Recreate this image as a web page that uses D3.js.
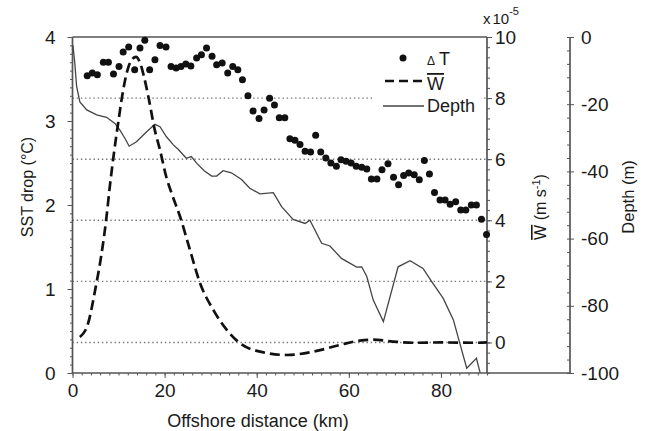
<!DOCTYPE html>
<html><head><meta charset="utf-8">
<script src="https://cdn.jsdelivr.net/npm/d3@7"></script>
<style>
html,body{margin:0;padding:0;background:#fff;}
svg{display:block;font-family:"Liberation Sans",Arial,Helvetica,sans-serif;}
</style></head>
<body><svg id="c" width="647" height="431"></svg>
<script>
// ---- data ----
const tDist = [3.2,4.3,5.4,6.7,7.8,8.9,10.1,11.0,12.2,13.5,14.65,15.7,16.75,17.9,19.0,20.3,21.4,22.5,23.55,24.6,25.7,26.95,28.0,29.1,30.3,31.3,32.5,33.7,34.8,35.9,36.9,38.1,39.2,40.5,41.6,42.8,43.85,44.9,46.1,47.2,48.3,49.4,50.5,51.7,52.8,53.9,55.0,56.1,57.3,58.3,59.4,60.5,61.6,62.8,63.9,64.9,66.1,67.2,68.5,69.7,70.8,71.9,73.0,74.2,75.3,76.4,77.5,78.6,79.8,80.9,82.0,83.2,84.3,85.4,86.6,87.7,88.8,89.9];
const tValues = [3.54,3.57,3.55,3.70,3.70,3.56,3.65,3.82,3.88,3.61,3.87,3.96,3.61,3.73,3.90,3.88,3.65,3.63,3.65,3.68,3.655,3.75,3.79,3.87,3.77,3.67,3.69,3.57,3.65,3.61,3.49,3.30,3.12,3.03,3.13,3.27,3.19,3.04,3.04,2.79,2.77,2.72,2.64,2.63,2.83,2.63,2.56,2.50,2.46,2.54,2.52,2.50,2.46,2.45,2.43,2.31,2.31,2.42,2.49,2.33,2.24,2.35,2.38,2.36,2.30,2.53,2.37,2.15,2.06,2.06,2.01,2.04,1.94,1.94,2.00,2.00,1.83,1.65];

const wDist = [1.6,3.4,4.9,6.3,7.3,8.1,9.0,9.9,11.0,12.1,13.0,13.8,14.6,15.6,16.6,17.8,19.0,20.4,21.6,23.4,25.5,27.7,30.6,33.5,36.4,40.7,46.5,52.3,58.1,62.4,65.3,69.6,74.0,80.0,87.7,90.0];
const wValues = [0.18,0.63,1.7,2.9,4.0,5.1,6.2,7.17,8.26,9.0,9.28,9.35,9.18,8.65,7.95,7.0,6.3,5.4,4.85,4.1,3.03,1.94,1.06,0.41,-0.03,-0.30,-0.41,-0.30,-0.08,0.06,0.09,0.03,-0.01,0.0,-0.01,0.0];

const dDist = [0.1,0.5,0.9,1.6,3.1,5.25,7.4,9.2,10.3,11.4,12.3,13.9,16.1,17.9,19.0,20.4,21.9,23.0,24.7,25.8,27.0,28.6,30.2,31.3,32.7,34.5,36.7,38.5,40.7,43.6,45.4,47.9,50.5,51.55,54.1,55.9,58.4,61.7,62.8,63.9,65.3,67.5,70.7,73.3,76.1,78.0,80.5,82.7,84.1,85.6,87.7,88.5];
const dValues = [-2.5,-7.8,-14.8,-19.3,-21.7,-23.2,-23.9,-25.7,-27.7,-30.2,-32.5,-31.2,-28.2,-26.0,-26.7,-29.7,-32.1,-33.5,-36.1,-35.6,-37.6,-39.8,-41.4,-41.4,-39.8,-40.4,-42.4,-45.0,-46.7,-46.3,-50.5,-54.3,-55.5,-54.5,-61.4,-62.2,-65.9,-68.5,-68.4,-71.3,-78.3,-84.7,-68.4,-66.6,-68.9,-72.8,-77.8,-84.2,-91.2,-98.6,-95.6,-99.9];

const xTicks = [0,20,40,60,80];
const tTicks = [0,1,2,3,4];
const wTicks = [0,2,4,6,8,10];
const dTicks = [0,-20,-40,-60,-80,-100];
const gridW = [0,2,4,6,8];

// ---- layout ----
const L = 72.5, R = 487, T = 37, B = 373, RD = 570;
const svg = d3.select("#c");
const x = d3.scaleLinear().domain([0,90]).range([L,R]);
const yT = d3.scaleLinear().domain([0,4]).range([B,T]);
const yW = d3.scaleLinear().domain([-1,10]).range([B,T]);
const yD = d3.scaleLinear().domain([-100,0]).range([B,T]);

const axisCol = "#555", textCol = "#1a1a1a";

// grid
svg.append("g").selectAll("line").data(gridW).join("line")
  .attr("x1",L).attr("x2",R).attr("y1",d=>yW(d)).attr("y2",d=>yW(d))
  .attr("stroke","#777").attr("stroke-width",1.4).attr("stroke-dasharray","1.4,2.8");

function styleAxis(g, fs){
  g.select(".domain").remove();
  g.selectAll("line").attr("stroke",axisCol).attr("stroke-width",1);
  g.selectAll("text").attr("fill",textCol).style("font-size",fs+"px");
}
const FS = 19;
// left axis
svg.append("g").attr("transform",`translate(${L},0)`)
  .call(d3.axisLeft(yT).tickValues(d3.range(0,41).map(i=>i/10)).tickSize(2.5).tickFormat(""))
  .call(g=>styleAxis(g,FS));
svg.append("g").attr("transform",`translate(${L},0)`)
  .call(d3.axisLeft(yT).tickValues(tTicks).tickSize(5).tickPadding(12).tickFormat(d3.format("d")))
  .call(g=>styleAxis(g,FS));
// bottom axis
svg.append("g").attr("transform",`translate(0,${B})`)
  .call(d3.axisBottom(x).tickValues(d3.range(0,46).map(i=>i*2)).tickSize(2.5).tickFormat(""))
  .call(g=>styleAxis(g,FS));
svg.append("g").attr("transform",`translate(0,${B})`)
  .call(d3.axisBottom(x).tickValues(xTicks).tickSize(5).tickPadding(6).tickFormat(d3.format("d")))
  .call(g=>styleAxis(g,FS));
// W axis
svg.append("g").attr("transform",`translate(${R},0)`)
  .call(d3.axisRight(yW).tickValues(d3.range(-3,31).map(i=>i/3)).tickSize(3).tickFormat(""))
  .call(g=>styleAxis(g,FS));
svg.append("g").attr("transform",`translate(${R},0)`)
  .call(d3.axisRight(yW).tickValues(wTicks).tickSize(5).tickPadding(3).tickFormat(d3.format("d")))
  .call(g=>styleAxis(g,FS));
// depth axis
svg.append("g").attr("transform",`translate(${RD},0)`)
  .call(d3.axisLeft(yD).tickValues(d3.range(0,26).map(i=>-i*4)).tickSize(3).tickFormat(""))
  .call(g=>styleAxis(g,FS));
svg.append("g").attr("transform",`translate(${RD},0)`)
  .call(d3.axisRight(yD).tickValues(dTicks).tickSize(4).tickPadding(7).tickFormat(d=>String(d)))
  .call(g=>styleAxis(g,FS));

// frame lines
const fr = svg.append("g").attr("stroke",axisCol).attr("stroke-width",1.7).attr("fill","none");
fr.append("line").attr("x1",L).attr("x2",L).attr("y1",T).attr("y2",B);
fr.append("line").attr("x1",L).attr("x2",RD).attr("y1",B).attr("y2",B);
fr.append("line").attr("x1",L).attr("x2",R).attr("y1",T).attr("y2",T);
fr.append("line").attr("x1",R).attr("x2",R).attr("y1",T).attr("y2",B);
fr.append("line").attr("x1",RD).attr("x2",RD).attr("y1",T).attr("y2",B);

// depth line
svg.append("path").datum(dDist.map((d,i)=>[d,dValues[i]]))
  .attr("d",d3.line().x(d=>x(d[0])).y(d=>yD(d[1])))
  .attr("fill","none").attr("stroke","#444").attr("stroke-width",1.3);
// W line
svg.append("path").datum(wDist.map((d,i)=>[d,wValues[i]]))
  .attr("d",d3.line().x(d=>x(d[0])).y(d=>yW(d[1])).curve(d3.curveMonotoneX))
  .attr("fill","none").attr("stroke","#111").attr("stroke-width",2.7).attr("stroke-dasharray","10,5");
// dots
svg.append("g").selectAll("circle").data(tDist.map((d,i)=>[d,tValues[i]])).join("circle")
  .attr("cx",d=>x(d[0])).attr("cy",d=>yT(d[1])).attr("r",3.5).attr("fill","#111");

// legend
const lg = svg.append("g");
lg.append("rect").attr("x",375).attr("y",44).attr("width",106).attr("height",72).attr("fill","#fff");
lg.append("circle").attr("cx",403).attr("cy",58).attr("r",3.5).attr("fill","#111");
const t1 = lg.append("text").attr("x",427).attr("y",65).attr("fill",textCol);
t1.append("tspan").style("font-size","12px").text("Δ");
t1.append("tspan").attr("dx",4).style("font-size","18px").text("T");
lg.append("line").attr("x1",385).attr("x2",424).attr("y1",81).attr("y2",81)
  .attr("stroke","#111").attr("stroke-width",2.5).attr("stroke-dasharray","9,5");
lg.append("text").attr("x",427).attr("y",90).attr("fill",textCol).style("font-size","18px")
  .style("text-decoration","overline").text("W");
lg.append("line").attr("x1",383).attr("x2",424).attr("y1",106).attr("y2",106)
  .attr("stroke","#444").attr("stroke-width",1.3);
lg.append("text").attr("x",427).attr("y",112).attr("fill",textCol).style("font-size","18px").text("Depth");

// multiplier
const mt = svg.append("text").attr("x",483).attr("y",24).attr("fill",textCol).style("font-size","15px");
mt.append("tspan").text("x");
mt.append("tspan").attr("dx",2).text("10");
mt.append("tspan").attr("dy",-9).style("font-size","11px").text("-5");

// axis titles
svg.append("text").attr("x",258).attr("y",427).attr("text-anchor","middle").attr("fill",textCol)
  .style("font-size","18px").text("Offshore distance (km)");
svg.append("text").attr("transform","translate(33,187) rotate(-90)").attr("text-anchor","middle")
  .attr("fill",textCol).style("font-size","16px").text("SST drop (°C)");
const wt = svg.append("text").attr("transform","translate(546,207) rotate(-90)").attr("text-anchor","middle")
  .attr("fill",textCol).style("font-size","16px");
wt.append("tspan").style("text-decoration","overline").text("W");
wt.append("tspan").text(" (m s");
wt.append("tspan").attr("dy",-6).style("font-size","11px").text("-1");
wt.append("tspan").attr("dy",6).text(")");
svg.append("text").attr("transform","translate(634,197) rotate(-90)").attr("text-anchor","middle")
  .attr("fill",textCol).style("font-size","16.5px").text("Depth (m)");
</script></body></html>
